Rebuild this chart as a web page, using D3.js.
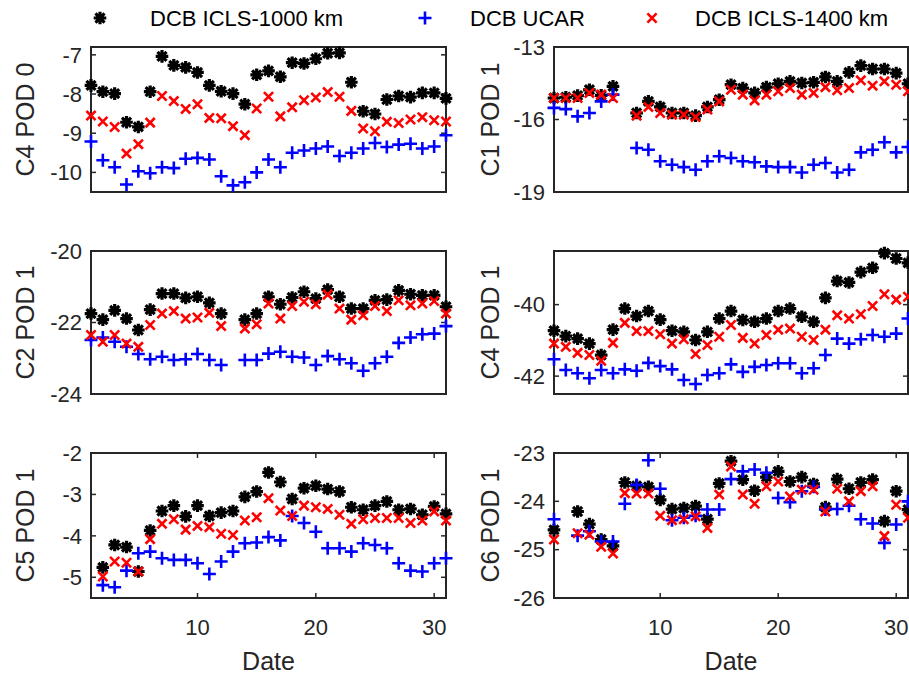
<!DOCTYPE html>
<html lang="en">
<head>
<meta charset="UTF-8">
<title>DCB comparison</title>
<script src="https://cdn.jsdelivr.net/npm/d3@7"></script>
<style>
    body{ margin:0; background:#fff; }
    text{ font-family: Arial, "Liberation Sans", Helvetica, sans-serif; fill:#262626; }
    .ticklab{ font-size:22px; }
    .ylab{ font-size:25px; }
    .xlab{ font-size:25px; }
    .legend text{ font-size:22px; fill:#000; }
    .frame{ fill:none; stroke:#262626; stroke-width:2px; }
    .tick{ stroke:#262626; stroke-width:1.5px; }
</style>
</head>
<body>
<div id="container"></div>
<script>
// day of month
const days = [1,2,3,4,5,6,7,8,9,10,11,12,13,14,15,16,17,18,19,20,21,22,23,24,25,26,27,28,29,30,31];
const n = null;

// C4 POD 0
const c4p0_1000 = [-7.78,-7.94,-7.99,-8.72,-8.84,-7.94,-7.04,-7.27,-7.32,-7.45,-7.78,-7.93,-7.99,-8.26,-7.51,-7.41,-7.56,-7.20,-7.22,-7.10,-6.96,-6.95,-7.70,-8.44,-8.51,-8.14,-8.05,-8.08,-7.97,-7.97,-8.11];
const c4p0_ucar = [-9.21,-9.69,-9.87,-10.31,-9.97,-10.02,-9.87,-9.89,-9.65,-9.63,-9.67,-10.10,-10.33,-10.25,-10.00,-9.67,-9.87,-9.50,-9.44,-9.39,-9.34,-9.58,-9.50,-9.39,-9.25,-9.35,-9.29,-9.27,-9.39,-9.34,-9.05];
const c4p0_1400 = [-8.55,-8.70,-8.84,-9.52,-9.28,-8.73,-8.05,-8.18,-8.38,-8.26,-8.61,-8.62,-8.82,-9.05,-8.37,-8.07,-8.57,-8.34,-8.16,-8.09,-7.95,-8.07,-8.43,-8.88,-8.95,-8.71,-8.74,-8.65,-8.59,-8.67,-8.70];

// C1 POD 1
const c1p1_1000 = [-15.11,-15.08,-15.01,-14.77,-15.00,-14.63,n,-15.73,-15.25,-15.48,-15.73,-15.73,-15.84,-15.48,-15.18,-14.56,-14.70,-14.90,-14.66,-14.52,-14.42,-14.49,-14.46,-14.24,-14.42,-14.05,-13.77,-13.91,-13.91,-14.08,-14.52];
const c1p1_ucar = [-15.52,-15.57,-15.87,-15.73,-15.25,-14.97,n,-17.18,-17.25,-17.73,-17.87,-17.97,-18.08,-17.73,-17.52,-17.59,-17.73,-17.77,-17.94,-17.97,-17.97,-18.19,-17.87,-17.80,-18.19,-18.08,-17.36,-17.25,-16.94,-17.36,-17.14];
const c1p1_1400 = [-15.11,-15.11,-15.11,-14.90,-14.97,-15.11,n,-15.84,-15.48,-15.73,-15.80,-15.80,-15.90,-15.59,-15.25,-14.77,-14.97,-15.21,-14.97,-14.83,-14.70,-14.97,-14.90,-14.66,-14.79,-14.70,-14.38,-14.60,-14.42,-14.56,-14.83];

// C2 POD 1
const c2p1_1000 = [-21.75,-21.92,-21.66,-21.89,-22.21,-21.64,-21.19,-21.19,-21.31,-21.28,-21.45,-21.75,n,-21.92,-21.75,-21.28,-21.49,-21.30,-21.14,-21.33,-21.08,-21.28,-21.61,-21.61,-21.38,-21.36,-21.10,-21.21,-21.24,-21.24,-21.56];
const c2p1_ucar = [-22.49,-22.42,-22.54,-22.68,-22.88,-23.03,-22.96,-23.05,-23.03,-22.88,-23.05,-23.19,n,-23.05,-23.05,-22.87,-22.82,-22.96,-22.98,-23.19,-22.94,-23.03,-23.14,-23.35,-23.14,-22.96,-22.57,-22.42,-22.33,-22.31,-22.10];
const c2p1_1400 = [-22.35,-22.54,-22.35,-22.59,-22.68,-22.07,-21.75,-21.68,-21.89,-21.86,-21.73,-22.10,n,-22.17,-22.05,-21.47,-21.89,-21.54,-21.42,-21.49,-21.22,-21.61,-21.92,-21.80,-21.54,-21.68,-21.38,-21.52,-21.47,-21.40,-21.75];

// C4 POD 1
const c4p1_1000 = [-40.73,-40.88,-40.95,-41.09,-41.41,-40.70,-40.11,-40.32,-40.18,-40.42,-40.73,-40.76,-40.99,-40.76,-40.39,-40.18,-40.43,-40.48,-40.39,-40.18,-40.11,-40.34,-40.48,-39.81,-39.34,-39.38,-39.09,-38.97,-38.56,-38.71,-38.83];
const c4p1_ucar = [-41.53,-41.83,-41.92,-42.06,-41.83,-41.92,-41.81,-41.85,-41.63,-41.72,-41.81,-42.11,-42.22,-41.97,-41.92,-41.67,-41.88,-41.74,-41.69,-41.64,-41.64,-41.92,-41.78,-41.41,-40.95,-41.09,-40.97,-40.85,-40.90,-40.81,-40.39];
const c4p1_1400 = [-41.09,-41.18,-41.35,-41.41,-41.57,-41.07,-40.51,-40.74,-40.74,-40.83,-41.09,-40.97,-41.38,-41.13,-40.90,-40.57,-40.93,-41.09,-40.85,-40.70,-40.67,-40.90,-40.99,-40.70,-40.30,-40.39,-40.27,-40.04,-39.71,-39.86,-39.78];

// C5 POD 1
const c5p1_1000 = [n,-4.76,-4.22,-4.27,-4.86,-3.87,-3.40,-3.27,-3.53,-3.27,-3.52,-3.44,-3.40,-3.06,-2.93,-2.47,-2.70,-3.11,-2.85,-2.79,-2.87,-2.93,-3.31,-3.37,-3.27,-3.17,-3.37,-3.35,-3.49,-3.29,-3.47];
const c5p1_ucar = [n,-5.19,-5.24,-4.84,-4.42,-4.38,-4.54,-4.58,-4.58,-4.66,-4.92,-4.62,-4.38,-4.18,-4.16,-4.03,-4.11,-3.52,-3.69,-3.90,-4.30,-4.30,-4.38,-4.18,-4.22,-4.30,-4.66,-4.84,-4.86,-4.66,-4.54];
const c5p1_1400 = [n,-4.98,-4.62,-4.65,-4.86,-4.08,-3.71,-3.60,-3.85,-3.76,-3.79,-3.95,-3.98,-3.63,-3.55,-3.09,-3.39,-3.52,-3.27,-3.31,-3.35,-3.49,-3.71,-3.60,-3.57,-3.57,-3.57,-3.69,-3.63,-3.41,-3.63];

// C6 POD 1
const c6p1_1000 = [-24.59,n,-24.21,-24.47,-24.79,-24.92,-23.61,-23.68,-23.70,-23.97,-24.16,-24.14,-24.10,-24.37,-23.63,-23.17,-23.55,-23.78,-23.50,-23.38,-23.59,-23.50,-23.64,-24.12,-23.54,-23.74,-23.61,-23.55,-24.41,-23.79,-24.17];
const c6p1_ucar = [-24.37,n,-24.71,-24.62,-24.83,-24.83,-24.05,-23.66,-23.15,-23.74,-24.39,-24.34,-24.30,-24.17,-24.17,-23.54,-23.38,-23.34,-23.41,-23.93,-24.02,-23.79,-23.70,-24.17,-24.16,-24.09,-24.37,-24.46,-24.86,-24.48,-24.00];
const c6p1_1400 = [-24.79,n,-24.66,-24.69,-24.94,-25.08,-23.83,-23.84,-23.84,-24.30,-24.39,-24.37,-24.31,-24.55,-23.86,-23.28,-23.86,-24.05,-23.69,-23.59,-23.90,-23.76,-23.76,-24.21,-23.74,-24.00,-23.79,-23.69,-24.72,-24.07,-24.34];

const seriesNames = ["DCB ICLS-1000 km", "DCB UCAR", "DCB ICLS-1400 km"];
const xTicks = [10, 20, 30];

const panels = [
    {label:"C4 POD 0", col:0, row:0, ylim:[-10.5,-6.8], yticks:[-10,-9,-8,-7], data:[c4p0_1000,c4p0_ucar,c4p0_1400]},
    {label:"C1 POD 1", col:1, row:0, ylim:[-19,-13], yticks:[-19,-16,-13], data:[c1p1_1000,c1p1_ucar,c1p1_1400]},
    {label:"C2 POD 1", col:0, row:1, ylim:[-24,-20], yticks:[-24,-22,-20], data:[c2p1_1000,c2p1_ucar,c2p1_1400]},
    {label:"C4 POD 1", col:1, row:1, ylim:[-42.5,-38.5], yticks:[-42,-40], data:[c4p1_1000,c4p1_ucar,c4p1_1400]},
    {label:"C5 POD 1", col:0, row:2, ylim:[-5.5,-2], yticks:[-5,-4,-3,-2], data:[c5p1_1000,c5p1_ucar,c5p1_1400]},
    {label:"C6 POD 1", col:1, row:2, ylim:[-26,-23], yticks:[-26,-25,-24,-23], data:[c6p1_1000,c6p1_ucar,c6p1_1400]}
];

const width = 909, height = 674;
const cols = [{x0:91, x1:446, ylabX:25}, {x0:554, x1:908, ylabX:490}];
const rows = [{y0:47, y1:192}, {y0:251, y1:394}, {y0:453, y1:598}];

// marker shapes (MATLAB '*', '+', 'x')
const plusType = {draw(p, r){ p.moveTo(-r,0); p.lineTo(r,0); p.moveTo(0,-r); p.lineTo(0,r); }};
const timesType = {draw(p, r){ p.moveTo(-r,-r); p.lineTo(r,r); p.moveTo(-r,r); p.lineTo(r,-r); }};
const starType = {draw(p, r){ plusType.draw(p, r); timesType.draw(p, r*0.72); }};
const markers = [
    {sym: d3.symbol().type(starType).size(6.3), color:"#000000", w:3.2},
    {sym: d3.symbol().type(plusType).size(6.5), color:"#0000ff", w:2.6},
    {sym: d3.symbol().type(timesType).size(4.6), color:"#ff0000", w:2.6}
];

const svg = d3.select("#container").append("svg")
    .attr("width", width).attr("height", height)
    .attr("viewBox", `0 0 ${width} ${height}`);

panels.forEach(p => {
    const c = cols[p.col], r = rows[p.row];
    const x = d3.scaleLinear().domain([1, 31]).range([c.x0, c.x1]);
    const y = d3.scaleLinear().domain(p.ylim).range([r.y1, r.y0]);
    const g = svg.append("g");

    // y ticks, inside on both sides
    p.yticks.forEach(t => {
        g.append("line").attr("class","tick")
            .attr("x1", c.x0).attr("x2", c.x0 + 5).attr("y1", y(t)).attr("y2", y(t));
        g.append("line").attr("class","tick")
            .attr("x1", c.x1).attr("x2", c.x1 - 5).attr("y1", y(t)).attr("y2", y(t));
        g.append("text").attr("class","ticklab")
            .attr("x", c.x0 - 9).attr("y", y(t)).attr("dy", "0.35em")
            .attr("text-anchor","end").text(t);
    });

    if (p.row === 2) {
        xTicks.forEach(t => {
            g.append("line").attr("class","tick")
                .attr("x1", x(t)).attr("x2", x(t)).attr("y1", r.y1).attr("y2", r.y1 - 5);
            g.append("line").attr("class","tick")
                .attr("x1", x(t)).attr("x2", x(t)).attr("y1", r.y0).attr("y2", r.y0 + 5);
            g.append("text").attr("class","ticklab")
                .attr("x", x(t)).attr("y", r.y1 + 37)
                .attr("text-anchor","middle").text(t);
        });
        g.append("text").attr("class","xlab")
            .attr("x", (c.x0 + c.x1) / 2).attr("y", r.y1 + 72)
            .attr("text-anchor","middle").text("Date");
    }

    g.append("text").attr("class","ylab")
        .attr("transform", `translate(${c.ylabX},${(r.y0 + r.y1) / 2}) rotate(-90)`)
        .attr("dy","0.35em")
        .attr("text-anchor","middle").text(p.label);

    g.append("rect").attr("class","frame")
        .attr("x", c.x0).attr("y", r.y0)
        .attr("width", c.x1 - c.x0).attr("height", r.y1 - r.y0);

    p.data.forEach((vals, si) => {
        const m = markers[si];
        const pts = days.map((d, i) => ({d: d, v: vals[i]})).filter(o => o.v !== null);
        g.append("g").selectAll("path")
            .data(pts).enter().append("path")
            .attr("transform", o => `translate(${x(o.d)},${y(o.v)})`)
            .attr("d", m.sym)
            .attr("fill","none")
            .attr("stroke", m.color)
            .attr("stroke-width", m.w);
    });
});

// legend across the top
const legend = svg.append("g").attr("class","legend");
const legendPos = [{mx:100, tx:150}, {mx:425, tx:470}, {mx:652, tx:695}];
seriesNames.forEach((name, i) => {
    const m = markers[i], lp = legendPos[i];
    legend.append("path")
        .attr("transform", `translate(${lp.mx},18)`)
        .attr("d", m.sym)
        .attr("fill","none").attr("stroke", m.color).attr("stroke-width", m.w);
    legend.append("text").attr("x", lp.tx).attr("y", 18).attr("dy","0.35em").text(name);
});
</script>
</body>
</html>
